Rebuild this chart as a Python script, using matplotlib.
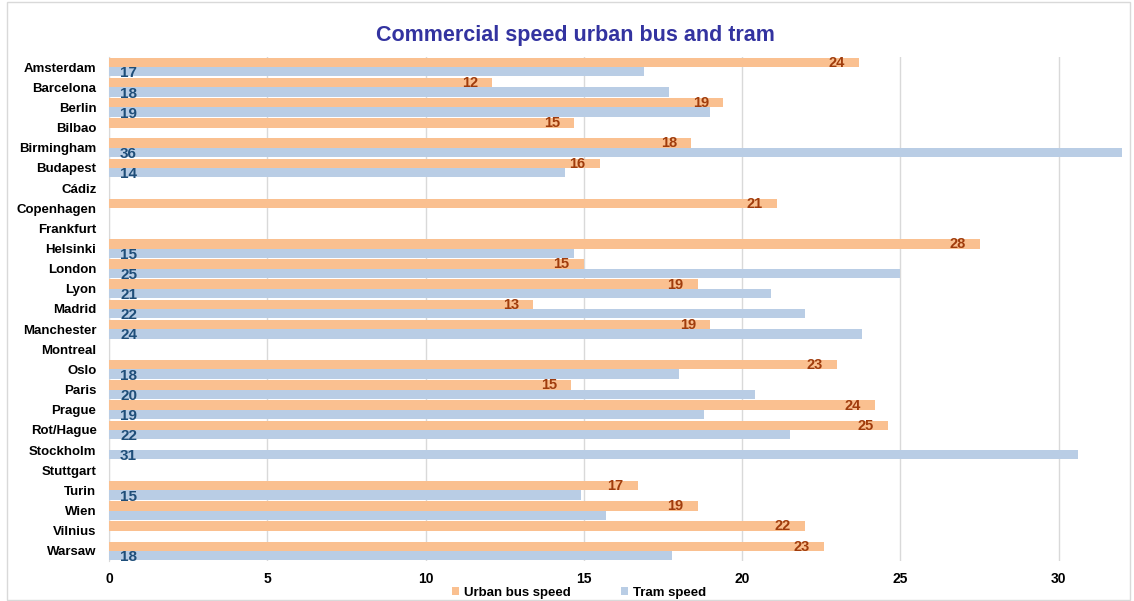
import numpy as np
import matplotlib
matplotlib.use('Agg')
import matplotlib.pyplot as plt
from matplotlib.patches import Rectangle

# Commercial speed (km/h) of urban buses and trams, by city
cities = ['Amsterdam', 'Barcelona', 'Berlin', 'Bilbao', 'Birmingham', 'Budapest',
          'Cádiz', 'Copenhagen', 'Frankfurt', 'Helsinki', 'London', 'Lyon',
          'Madrid', 'Manchester', 'Montreal', 'Oslo', 'Paris', 'Prague',
          'Rot/Hague', 'Stockholm', 'Stuttgart', 'Turin', 'Wien', 'Vilnius',
          'Warsaw']
bus_speed = [23.7, 12.1, 19.4, 14.7, 18.4, 15.5,
             np.nan, 21.1, np.nan, 27.5, 15.0, 18.6,
             13.4, 19.0, np.nan, 23.0, 14.6, 24.2,
             24.6, np.nan, np.nan, 16.7, 18.6, 22.0,
             22.6]
tram_speed = [16.9, 17.7, 19.0, np.nan, 36.0, 14.4,
              np.nan, np.nan, np.nan, 14.7, 25.0, 20.9,
              22.0, 23.8, np.nan, 18.0, 20.4, 18.8,
              21.5, 30.6, np.nan, 14.9, 15.7, np.nan,
              17.8]
# cities whose tram value carries no data label
tram_unlabelled = ['Wien']

BUS_C = '#FAC090'
TRAM_C = '#B9CDE5'
BUS_TXT = '#A03C0C'
TRAM_TXT = '#1F4E79'
TITLE_C = '#3333A0'

plt.rcParams['font.family'] = ['Liberation Sans', 'DejaVu Sans']

fig = plt.figure(figsize=(11.34, 6.01), dpi=100)
ax = fig.add_axes([109/1134, 1 - 561/601, (1122 - 109)/1134, (561 - 57)/601])

y = np.arange(len(cities))
h = 0.465
bus = np.array(bus_speed)
tram = np.array(tram_speed)

ax.barh(y - h/2, np.nan_to_num(bus), height=h, color=BUS_C, zorder=3,
        label='Urban bus speed')
ax.barh(y + h/2, np.nan_to_num(tram), height=h, color=TRAM_C, zorder=3,
        label='Tram speed')

for i, c in enumerate(cities):
    if not np.isnan(bus[i]):
        ax.text(bus[i] - 0.45, i - h/2 + 0.02, f'{bus[i]:.0f}', ha='right',
                va='center', color=BUS_TXT, fontsize=10.5, fontweight='bold',
                zorder=4)
    if not np.isnan(tram[i]) and c not in tram_unlabelled:
        ax.text(0.35, i + h/2 + 0.08, f'{tram[i]:.0f}', ha='left',
                va='center', color=TRAM_TXT, fontsize=11, fontweight='bold',
                zorder=4)

ax.set_xlim(0, 32)
ax.set_ylim(len(cities) - 0.5, -0.5)
ax.set_xticks([0, 5, 10, 15, 20, 25, 30])
ax.set_yticks(y)
ax.set_yticklabels(cities, fontweight='bold', fontsize=9.5)
for lbl in ax.get_xticklabels():
    lbl.set_fontweight('bold')
    lbl.set_fontsize(10)
ax.tick_params(length=0)
ax.tick_params(axis='x', pad=8)
ax.tick_params(axis='y', pad=9)
ax.grid(axis='x', color='#D9D9D9', lw=1.0, zorder=0)
for s in ['top', 'right', 'bottom']:
    ax.spines[s].set_visible(False)
ax.spines['left'].set_color('#D9D9D9')

fig.text(575/1134, 1 - 35/601, 'Commercial speed urban bus and tram',
         ha='center', va='center', fontsize=15.5, fontweight='bold',
         color=TITLE_C)

leg = fig.legend(loc='center', bbox_to_anchor=(579/1134, 1 - 593/601), ncol=2,
                 frameon=False, handlelength=0.55, handleheight=0.55,
                 handletextpad=0.35, columnspacing=3.8,
                 prop={'size': 9.5, 'weight': 'bold'})

# chart area border
fig.patches.append(Rectangle((7/1134, 1/601), 1123/1134, 598/601,
                             transform=fig.transFigure, fill=False,
                             edgecolor='#D9D9D9', lw=1.0))

fig.savefig('out.png', dpi=100)
